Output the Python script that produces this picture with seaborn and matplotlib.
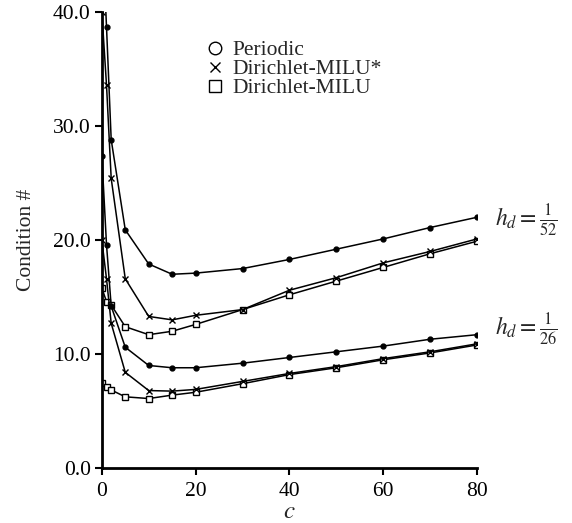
import matplotlib
matplotlib.use("Agg")
import matplotlib.pyplot as plt
from matplotlib.lines import Line2D
import numpy as np
import pandas as pd
import seaborn as sns

# values (c = parameter, y = condition number)
c_vals = [0, 1, 2, 5, 10, 15, 20, 30, 40, 50, 60, 70, 80]

per_52 = [48.0, 38.7, 28.8, 20.9, 17.9, 17.0, 17.1, 17.5, 18.3, 19.2, 20.1, 21.1, 22.0]
milus_52 = [40.0, 33.6, 25.4, 16.6, 13.3, 13.0, 13.4, 13.9, 15.6, 16.7, 18.0, 19.0, 20.1]
milu_52 = [15.8, 14.6, 14.3, 12.4, 11.7, 12.0, 12.6, 13.9, 15.2, 16.4, 17.6, 18.8, 19.9]

per_26 = [27.4, 19.6, 14.2, 10.6, 9.0, 8.8, 8.8, 9.2, 9.7, 10.2, 10.7, 11.3, 11.7]
milus_26 = [20.0, 16.6, 12.7, 8.4, 6.8, 6.75, 6.9, 7.6, 8.3, 8.9, 9.6, 10.2, 10.9]
milu_26 = [7.5, 7.1, 6.85, 6.25, 6.1, 6.4, 6.65, 7.4, 8.2, 8.8, 9.5, 10.1, 10.8]

methods = ["Periodic", "Dirichlet-MILU*", "Dirichlet-MILU"]
series = {
    ("Periodic", "52"): per_52,
    ("Dirichlet-MILU*", "52"): milus_52,
    ("Dirichlet-MILU", "52"): milu_52,
    ("Periodic", "26"): per_26,
    ("Dirichlet-MILU*", "26"): milus_26,
    ("Dirichlet-MILU", "26"): milu_26,
}

rows = []
for (m, h), vals in series.items():
    for c, v in zip(c_vals, vals):
        rows.append({"c": c, "cond": v, "method": m, "h": h})
df = pd.DataFrame(rows)

sns.set_style("ticks")
plt.rcParams["font.family"] = ["Liberation Serif", "DejaVu Serif"]
plt.rcParams["mathtext.fontset"] = "stix"

fig = plt.figure(figsize=(5.72, 5.23), dpi=100)
ax = fig.add_axes([0.178, 0.105, 0.656, 0.872])

mk = {"Periodic": "o", "Dirichlet-MILU*": "x", "Dirichlet-MILU": "s"}
msz = {"Periodic": 3.5, "Dirichlet-MILU*": 5, "Dirichlet-MILU": 4.5}
mfc = {"Periodic": "black", "Dirichlet-MILU*": "black", "Dirichlet-MILU": "white"}

for (m, h), sub in df.groupby(["method", "h"]):
    sns.lineplot(data=sub, x="c", y="cond", ax=ax, color="black", lw=1.1,
                 marker=mk[m], markersize=msz[m], markerfacecolor=mfc[m],
                 markeredgecolor="black", markeredgewidth=1.0,
                 legend=False, clip_on=True)

ax.set_xlim(0, 80)
ax.set_ylim(0, 40)
ax.set_xticks([0, 20, 40, 60, 80])
ax.set_yticks([0, 10, 20, 30, 40])
ax.set_yticklabels(["0.0", "10.0", "20.0", "30.0", "40.0"])
ax.tick_params(labelsize=15.5, width=1.5, length=5, direction="out", pad=3,
               colors="black")
ax.tick_params(axis="x", pad=5)
for s in ["left", "bottom"]:
    ax.spines[s].set_linewidth(2)
    ax.spines[s].set_color("black")
sns.despine(ax=ax)

ax.set_xlabel("$c$", fontsize=18, labelpad=0)
ax.set_ylabel("Condition #", fontsize=15.5, labelpad=12)

handles = [Line2D([], [], ls="none", marker="o", markersize=9, markerfacecolor="white",
                  markeredgecolor="black", markeredgewidth=1.0),
           Line2D([], [], ls="none", marker="x", markersize=7, color="black",
                  markeredgewidth=1.0),
           Line2D([], [], ls="none", marker="s", markersize=9, markerfacecolor="white",
                  markeredgecolor="black", markeredgewidth=1.0)]
ax.legend(handles, methods, loc="upper left", bbox_to_anchor=(0.247, 0.957),
          frameon=False, fontsize=15.5, handletextpad=0.25, labelspacing=-0.05,
          handlelength=1.1, borderaxespad=0)

fig.text(0.865, 0.58, r"$h_d = \frac{1}{52}$", fontsize=17, va="center")
fig.text(0.865, 0.37, r"$h_d = \frac{1}{26}$", fontsize=17, va="center")

fig.savefig("out.png", dpi=100)
